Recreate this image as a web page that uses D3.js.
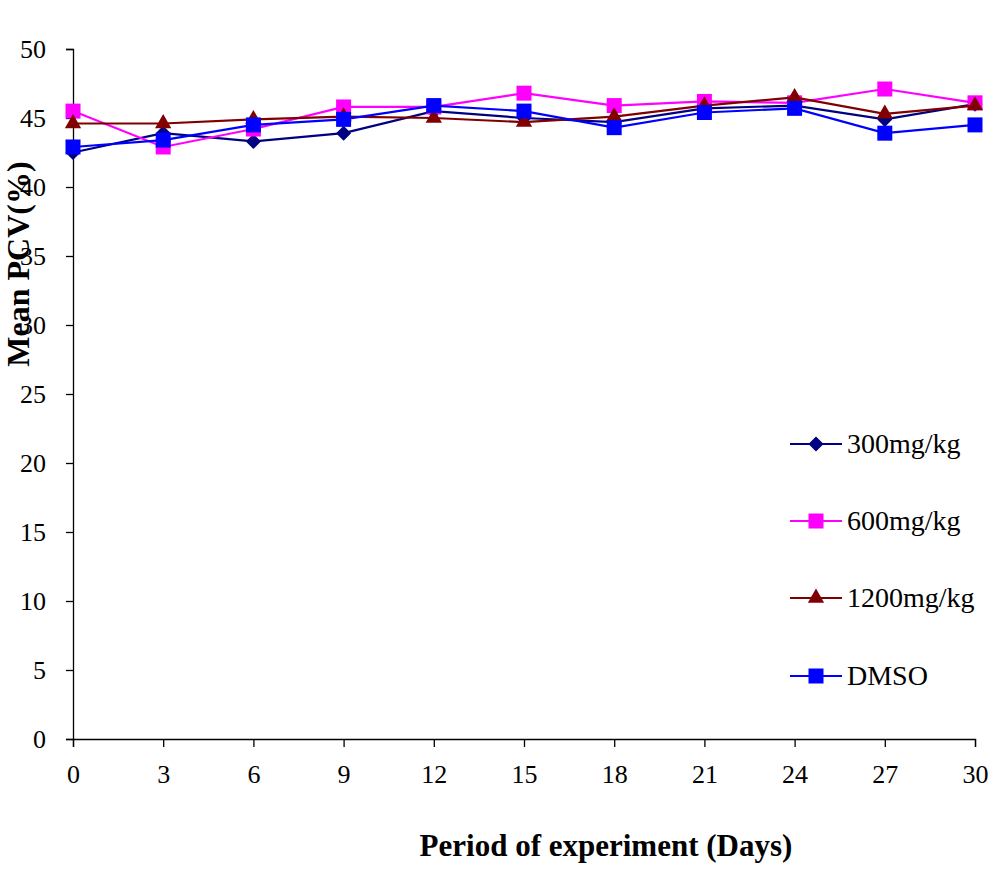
<!DOCTYPE html>
<html><head><meta charset="utf-8">
<script src="https://cdn.jsdelivr.net/npm/d3@7"></script>
<style>body{margin:0;background:#fff}svg{display:block}</style>
</head><body>
<script>
const days = [0,3,6,9,12,15,18,21,24,27,30];
const yTicks = [0,5,10,15,20,25,30,35,40,45,50];
const s300 = [42.5,43.9,43.3,43.9,45.5,45.0,44.7,45.7,45.9,44.9,46.0];
const s600 = [45.5,42.9,44.2,45.8,45.8,46.8,45.9,46.2,46.1,47.1,46.1];
const s1200 = [44.6,44.6,44.9,45.1,45.0,44.7,45.1,45.9,46.5,45.3,45.9];
const sDMSO = [42.9,43.4,44.5,44.9,45.9,45.5,44.3,45.4,45.7,43.9,44.5];
const seriesNames = ["300mg/kg","600mg/kg","1200mg/kg","DMSO"];

const series = [
  {name:seriesNames[0], values:s300, color:"#000080", sym:"diamond"},
  {name:seriesNames[1], values:s600, color:"#FF00FF", sym:"square"},
  {name:seriesNames[2], values:s1200, color:"#800000", sym:"triangle"},
  {name:seriesNames[3], values:sDMSO, color:"#0000FF", sym:"square"}
];

const W=1008,H=882;
const svg=d3.select("body").append("svg").attr("width",W).attr("height",H);
const x=d3.scaleLinear().domain([0,30]).range([73,975]);
const y=d3.scaleLinear().domain([0,50]).range([739,49]);
const font="'Liberation Serif','Times New Roman',serif";

// axes
const yAx=svg.append("g").attr("transform","translate(73,0)")
  .call(d3.axisLeft(y).tickValues(yTicks).tickSize(7).tickPadding(20).tickFormat(d3.format("d")));
const xAx=svg.append("g").attr("transform","translate(0,739)")
  .call(d3.axisBottom(x).tickValues(days).tickSize(8).tickPadding(16).tickFormat(d3.format("d")));
[yAx,xAx].forEach(a=>{
  a.attr("font-family",font);
  a.select(".domain").attr("stroke","#000").attr("stroke-width",1.3);
  a.selectAll(".tick line").attr("stroke","#000").attr("stroke-width",1.3);
  a.selectAll("text").attr("font-family",font).attr("font-size",26).attr("fill","#000");
});
xAx.selectAll("text").attr("dy","0.75em");

function symPath(sym){
  if(sym==="diamond") return "M0,-6.5L6.5,0L0,6.5L-6.5,0Z";
  if(sym==="triangle") return d3.symbol().type(d3.symbolTriangle).size(115)();
  return d3.symbol().type(d3.symbolSquare).size(225)();
}

const line=d3.line().x((d,i)=>x(days[i])).y(d=>y(d));
series.forEach(s=>{
  const g=svg.append("g");
  g.append("path").attr("d",line(s.values)).attr("fill","none")
    .attr("stroke",s.color).attr("stroke-width",2.2);
  g.selectAll("path.m").data(s.values).join("path").attr("class","m")
    .attr("d",symPath(s.sym))
    .attr("transform",(d,i)=>`translate(${x(days[i])},${y(d)})`)
    .attr("fill",s.color).attr("stroke",s.color).attr("stroke-width",s.sym==="diamond"?1.5:0)
    .attr("stroke-linejoin","round");
});

// legend
const legY=[444,521,598,676];
series.forEach((s,i)=>{
  const g=svg.append("g").attr("transform",`translate(0,${legY[i]})`);
  g.append("line").attr("x1",790).attr("x2",842).attr("y1",0).attr("y2",0)
    .attr("stroke",s.color).attr("stroke-width",2.2);
  g.append("path").attr("d",symPath(s.sym)).attr("transform","translate(816,0)")
    .attr("fill",s.color).attr("stroke",s.color).attr("stroke-width",s.sym==="diamond"?1.5:0)
    .attr("stroke-linejoin","round");
  g.append("text").attr("x",847).attr("y",9).attr("font-family",font).attr("font-size",28)
    .attr("fill","#000").text(s.name);
});

// axis titles
svg.append("text").attr("x",606).attr("y",856).attr("text-anchor","middle")
  .attr("font-family",font).attr("font-size",31).attr("font-weight","bold").text("Period of experiment (Days)");
svg.append("text").attr("transform","translate(29,264) rotate(-90)").attr("text-anchor","middle")
  .attr("font-family",font).attr("font-size",32).attr("font-weight","bold").text("Mean PCV(%)");
</script>
</body></html>
